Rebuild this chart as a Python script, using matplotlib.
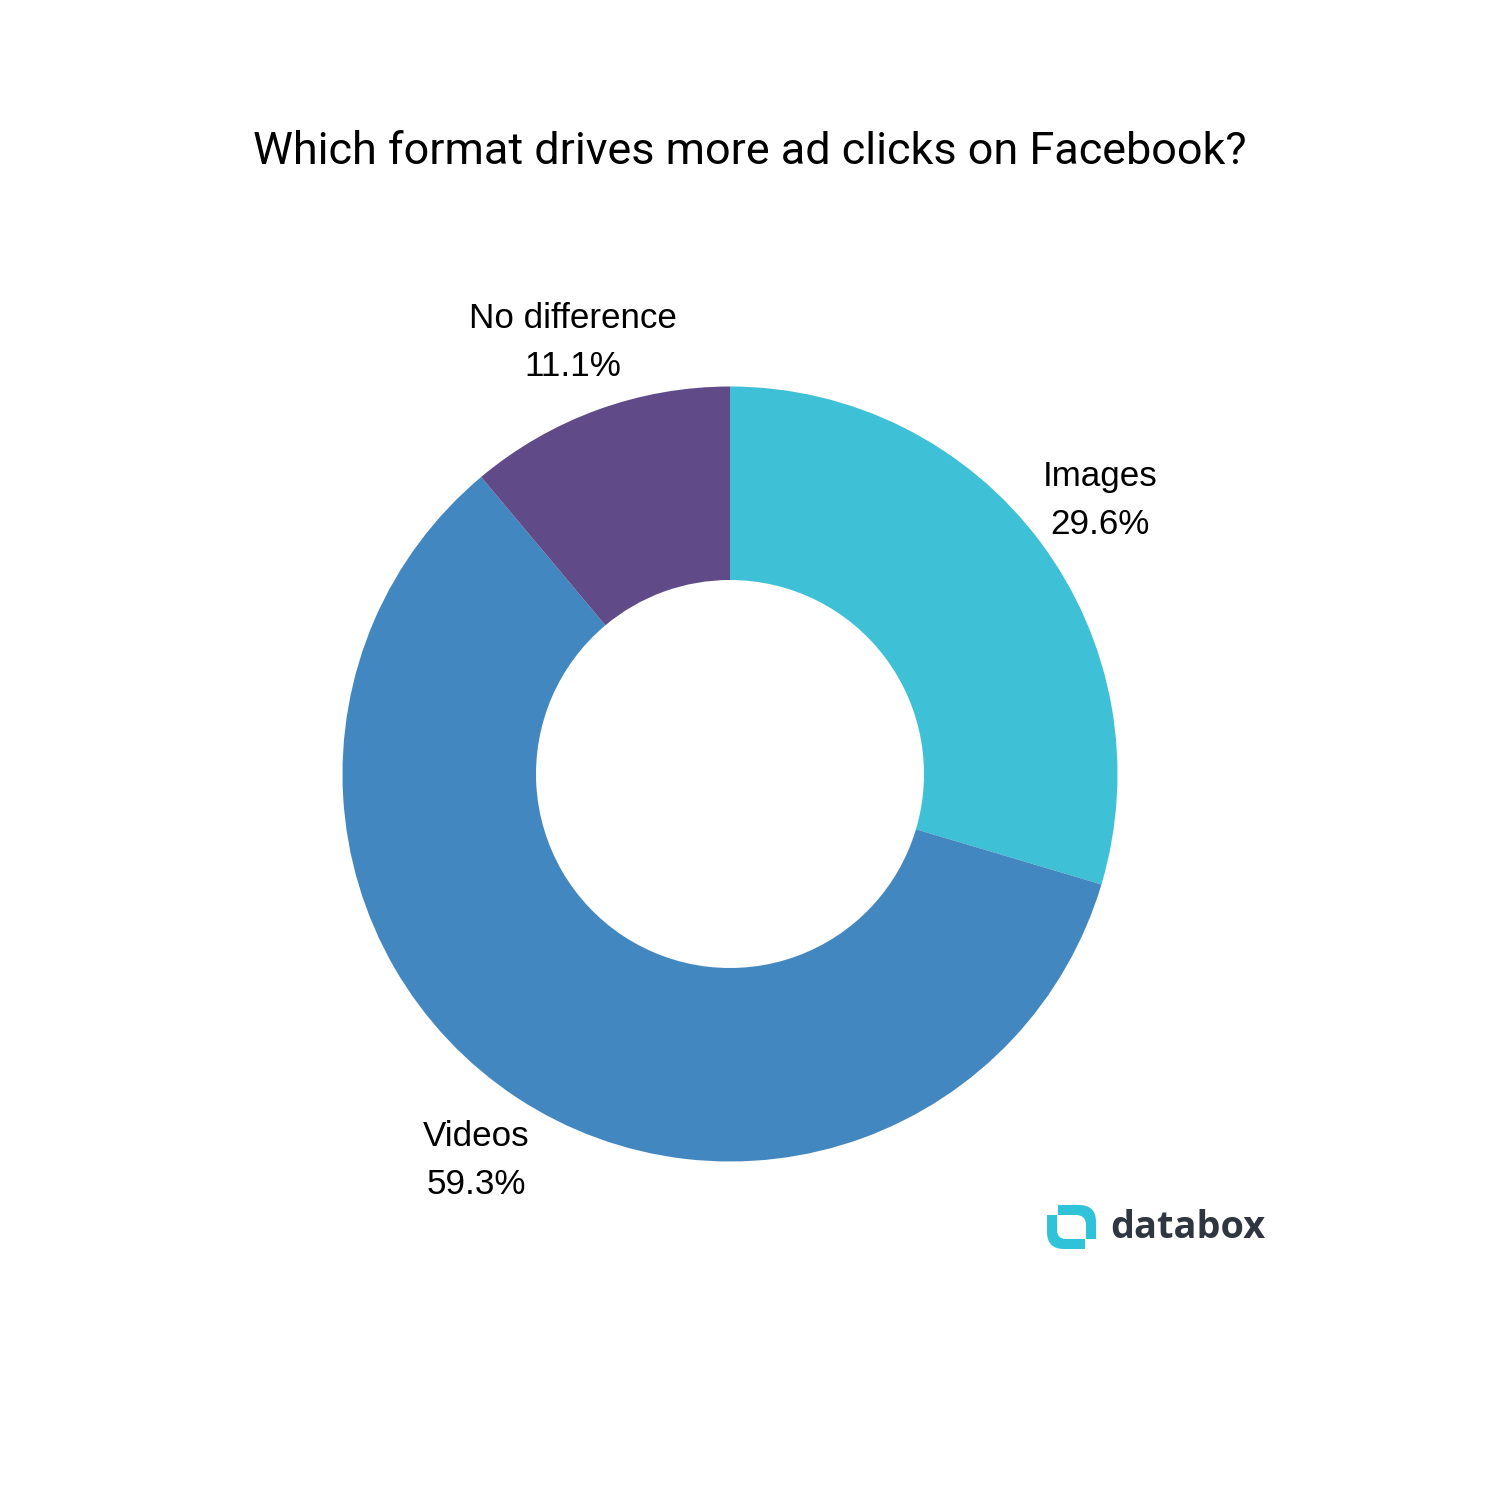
from matplotlib import pyplot as plt
from matplotlib.patches import PathPatch
from matplotlib.path import Path

labels = ["Images", "Videos", "No difference"]
values = [29.6, 59.3, 11.1]
colors = ["#3EC0D6", "#4387C1", "#604A87"]
title = "Which format drives more ad clicks on Facebook?"
brand = "databox"


def flip(y):
    # picture pixels count from the top
    return 1500 - y


def logo_piece(ax, pts, codes):
    verts = [(x, flip(y)) for x, y in pts]
    ax.add_patch(PathPatch(Path(verts, codes), fc="#2FC2D9", ec="none"))


if __name__ == '__main__':
    fig = plt.figure(figsize=(10, 10), dpi=150)
    ax = fig.add_axes([0, 0, 1, 1])

    # donut, clockwise from 12 o'clock
    ax.pie(values, colors=colors, startangle=90, counterclock=False, radius=387.5,
           center=(730, flip(774)), frame=True, wedgeprops=dict(width=193.5, linewidth=0))
    ax.set_xlim(0, 1500)
    ax.set_ylim(0, 1500)
    ax.set_aspect("equal")
    ax.axis("off")

    ax.text(750, flip(152), title, fontsize=21.6, family="Roboto", ha="center", va="center")

    label_pos = [(1100, 476.5), (476.5, 1137), (572.5, 319)]
    for name, val, pos in zip(labels, values, label_pos):
        ax.text(pos[0], flip(pos[1]), name, fontsize=16.8, family="Liberation Sans", ha="center", va="center")
        ax.text(pos[0], flip(pos[1] + 47.5), "%.1f%%" % val, fontsize=16.8, family="Liberation Sans",
                ha="center", va="center")

    # logo, two curved pieces
    M, L, C, Z = Path.MOVETO, Path.LINETO, Path.CURVE3, Path.CLOSEPOLY
    logo_piece(ax,
               [(1058, 1205), (1079, 1205), (1096, 1205), (1096, 1222), (1096, 1239), (1086, 1239),
                (1086, 1225), (1086, 1215), (1076, 1215), (1058, 1215), (1058, 1205)],
               [M, L, C, C, L, L, L, C, C, L, Z])
    logo_piece(ax,
               [(1047, 1215), (1057, 1215), (1057, 1230), (1057, 1239), (1066, 1239), (1085, 1239),
                (1085, 1249), (1064, 1249), (1047, 1249), (1047, 1232), (1047, 1215)],
               [M, L, L, C, C, L, L, L, C, C, Z])
    ax.text(1187.5, flip(1238), brand, fontsize=18.2, weight="bold", family="Open Sans", color="#2F3640",
            ha="center", va="baseline")

    fig.savefig("out.png", dpi=150, facecolor="white")
